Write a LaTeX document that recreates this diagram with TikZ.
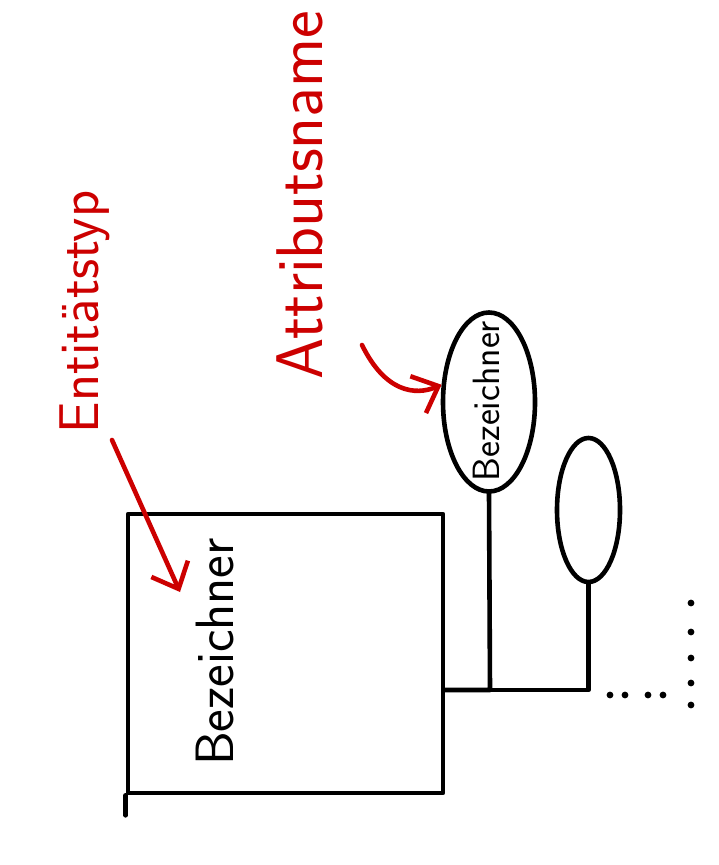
\documentclass[tikz,border=0pt]{standalone}
\usepackage{tikz}
\usetikzlibrary{shapes.geometric,arrows.meta}
\definecolor{penred}{RGB}{204,0,0}
\tikzset{
    pen/.style={line width=2.3pt, line cap=round, line join=round},
    entity/.style={pen, draw, rectangle, inner sep=0pt},
    attribute/.style={pen, draw, ellipse, inner sep=0pt},
    handtext/.style={rotate=90, inner sep=1pt},
    redlabel/.style={handtext, text=penred},
    redarrow/.style={pen, draw=penred, -{Straight Barb[length=11pt,width=20pt,line width=2.3pt]}}
}

\begin{document}
\begin{tikzpicture}[x=0.5pt, y=-0.5pt]
    \useasboundingbox (0,0) rectangle (718,865);

    % Entity with its name
    \node[entity, minimum width=157.5pt, minimum height=139.5pt] (ent) at (285.5,653.5) {};
    \node[handtext, font=\fontsize{27}{27}\sffamily] (entname) at (215,652) {Bezeichner};
    \draw[pen] (ent.south west) -- ++(0,20);

    % Attributes
    \node[attribute, minimum width=46pt, minimum height=89.5pt] (attr1) at (489,402) {};
    \node[handtext, font=\fontsize{19}{19}\sffamily] (attr1name) at (486,401) {Bezeichner};
    \node[attribute, minimum width=31.5pt, minimum height=72pt] (attr2) at (588.5,510) {};

    % Connections
    \coordinate (j1) at (490,690);
    \coordinate (j2) at (588.5,690);
    \draw[pen] (ent.east |- j1) -- (j1) -- (attr1.south);
    \draw[pen] (j1) -- (j2) -- (attr2.south);

    % More attributes follow
    \foreach \x in {610,625,648,663}
        \fill (\x,695) circle (1.7pt);
    \foreach \y in {603,632,658,683,705}
        \fill (691,\y) circle (1.7pt);

    % Red annotations
    \node[redlabel, font=\fontsize{28}{28}\sffamily] (entlabel) at (85,312) {Entitätstyp};
    \node[redlabel, font=\fontsize{33}{33}\sffamily] (attrlabel) at (300,195) {Attributsname};

    \coordinate (enttail) at (112,440);
    \coordinate (enttip) at (180,592);
    \draw[redarrow] (enttail) -- (enttip);

    \coordinate (attrtail) at (362,345);
    \draw[redarrow] (attrtail) .. controls (385,392) and (415,396) .. (attr1.160);
\end{tikzpicture}
\end{document}
